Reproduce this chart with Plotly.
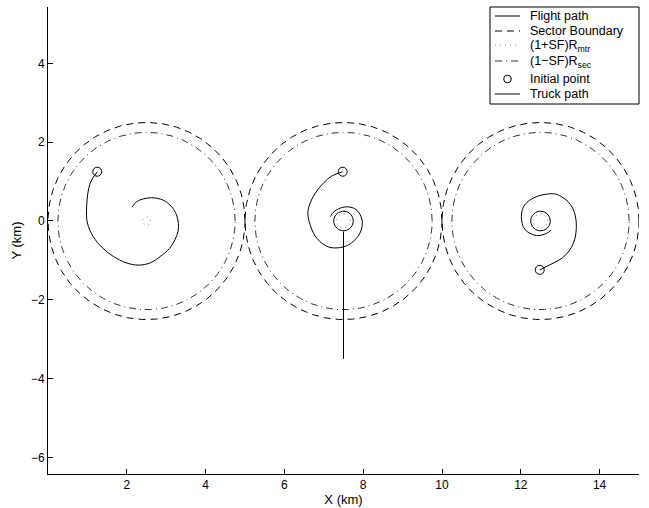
import numpy as np
import plotly.graph_objects as go

# ---- data ----
sector_cx = [2.5, 7.5, 12.5]
sector_cy = [0.0, 0.0, 0.0]
R_sec = 2.5
SF = 0.1
R_mtr_dotted = [0.1, 0.18, 0.18]          # (1+SF)R_mtr radii per sector
loiter_r = [None, 0.25, 0.25]             # terminal loiter circle (flight path)

fp1_x = [1.25, 1.07, 0.98, 1.0, 1.15, 1.38, 1.66, 1.98, 2.30, 2.60, 2.85, 3.08, 3.22, 3.30, 3.31, 3.26, 3.14, 2.92, 2.63, 2.42, 2.25, 2.13]
fp1_y = [1.25, 0.96, 0.36, -0.05, -0.40, -0.68, -0.90, -1.06, -1.12, -1.06, -0.90, -0.70, -0.48, -0.27, -0.06, 0.16, 0.36, 0.53, 0.59, 0.56, 0.49, 0.35]

fp2_x = [7.48, 7.20, 6.99, 6.78, 6.62, 6.60, 6.74, 6.90, 7.12, 7.37, 7.60, 7.79, 7.93, 7.98, 7.95, 7.87, 7.75, 7.58, 7.45, 7.32, 7.22, 7.17]
fp2_y = [1.25, 1.14, 0.96, 0.70, 0.36, 0.12, -0.31, -0.52, -0.66, -0.68, -0.62, -0.48, -0.28, -0.06, 0.10, 0.24, 0.33, 0.36, 0.34, 0.28, 0.20, 0.11]

fp3_x = [12.48, 12.82, 13.05, 13.24, 13.37, 13.41, 13.39, 13.32, 13.20, 13.03, 12.85, 12.65, 12.43, 12.23, 12.08, 12.02, 12.02, 12.06, 12.15, 12.27, 12.40, 12.52, 12.66, 12.77]
fp3_y = [-1.24, -1.07, -0.94, -0.74, -0.46, -0.14, 0.10, 0.32, 0.49, 0.62, 0.69, 0.68, 0.63, 0.53, 0.38, 0.20, 0.03, -0.14, -0.26, -0.33, -0.37, -0.36, -0.31, -0.23]

init_x = [1.25, 7.48, 12.48]
init_y = [1.25, 1.25, -1.24]

truck_x = [7.5, 7.5]
truck_y = [-3.5, -0.27]

x_ticks = [2, 4, 6, 8, 10, 12, 14]
y_ticks = [-6, -4, -2, 0, 2, 4]

legend_labels = ["Flight path", "Sector Boundary", "(1+SF)R<sub>mtr</sub>",
                 "(1\u2212SF)R<sub>sec</sub>", "Initial point", "Truck path"]

FONT = "Liberation Sans, Arial, Helvetica, sans-serif"

# styles
S_SOLID = dict(color="black", width=1)
S_DASH = dict(color="black", width=1, dash="7px,5px")
S_DOT = dict(color="#888888", width=1, dash="1px,4px")
S_DASHDOT = dict(color="#333333", width=1, dash="7px,4px,1px,4px")

W, H = 649, 508
ML, MR, MT, MB = 48, 10, 7, 34
PW, PH = W - ML - MR, H - MT - MB


def circle_pts(cx, cy, r, n=200):
    t = np.linspace(0, 2 * np.pi, n)
    return cx + r * np.cos(t), cy + r * np.sin(t)


def px(xp):
    return (xp - ML) / PW


def py(yp):
    return 1 - (yp - MT) / PH


fig = go.Figure()

# Flight paths
for xs, ys in [(fp1_x, fp1_y), (fp2_x, fp2_y), (fp3_x, fp3_y)]:
    fig.add_trace(go.Scatter(x=xs, y=ys, mode="lines", line=dict(S_SOLID, shape="spline"),
                             showlegend=False, hoverinfo="skip"))
for cx, cy, r in zip(sector_cx, sector_cy, loiter_r):
    if r is None:
        continue
    xs, ys = circle_pts(cx, cy, r)
    fig.add_trace(go.Scatter(x=xs, y=ys, mode="lines", line=S_SOLID, showlegend=False, hoverinfo="skip"))

# Sector boundary, dotted and dash-dot circles
for cx, cy, r in zip(sector_cx, sector_cy, R_mtr_dotted):
    xs, ys = circle_pts(cx, cy, R_sec, 400)
    fig.add_trace(go.Scatter(x=xs, y=ys, mode="lines", line=S_DASH, showlegend=False, hoverinfo="skip"))
    xs, ys = circle_pts(cx, cy, r, 60)
    fig.add_trace(go.Scatter(x=xs, y=ys, mode="lines", line=S_DOT, showlegend=False, hoverinfo="skip"))
    xs, ys = circle_pts(cx, cy, (1 - SF) * R_sec, 400)
    fig.add_trace(go.Scatter(x=xs, y=ys, mode="lines", line=S_DASHDOT, showlegend=False, hoverinfo="skip"))

# Initial points
fig.add_trace(go.Scatter(x=init_x, y=init_y, mode="markers",
                         marker=dict(symbol="circle-open", size=9, color="black", line=dict(width=1)),
                         showlegend=False, hoverinfo="skip"))

# Truck path
fig.add_trace(go.Scatter(x=truck_x, y=truck_y, mode="lines", line=S_SOLID, showlegend=False, hoverinfo="skip"))

# ---- manual legend (MATLAB-style compact box) ----
box = dict(x0=490, x1=639, y0=7, y1=104)
row_y = [16, 31, 46, 62, 79, 94]
styles = [S_SOLID, S_DASH, S_DOT, S_DASHDOT, None, S_SOLID]
shapes = [dict(type="rect", xref="paper", yref="paper",
               x0=px(box["x0"]), x1=px(box["x1"]), y0=py(box["y1"]), y1=py(box["y0"]),
               line=dict(color="black", width=1), fillcolor="white", layer="above")]
annotations = []
for lab, yy, st in zip(legend_labels, row_y, styles):
    yline = yy if "<sub>" not in lab else yy - 1
    if st is not None:
        shapes.append(dict(type="line", xref="paper", yref="paper",
                           x0=px(495), x1=px(520), y0=py(yline), y1=py(yline),
                           line=st, layer="above"))
    else:
        r = 3.8
        shapes.append(dict(type="circle", xref="paper", yref="paper",
                           x0=px(507.5 - r), x1=px(507.5 + r), y0=py(yy + r), y1=py(yy - r),
                           line=dict(color="black", width=1), layer="above"))
    annotations.append(dict(text=lab, xref="paper", yref="paper", x=px(528), y=py(yy),
                            xanchor="left", yanchor="middle", showarrow=False,
                            font=dict(family=FONT, size=12.5, color="black")))

fig.update_layout(
    width=W, height=H,
    margin=dict(l=ML, r=MR, t=MT, b=MB, autoexpand=False),
    paper_bgcolor="white", plot_bgcolor="white",
    font=dict(family=FONT, size=12, color="black"),
    showlegend=False,
    shapes=shapes, annotations=annotations,
)
fig.update_xaxes(range=[0, 15], tickvals=x_ticks, ticks="inside", ticklen=5, tickcolor="black",
                 showline=True, linecolor="black", linewidth=1, showgrid=False, zeroline=False,
                 tickfont=dict(size=12),
                 title=dict(text="X (km)", standoff=2, font=dict(size=13)))
fig.update_yaxes(range=[-6.42, 5.43], tickvals=y_ticks, ticks="inside", ticklen=5, tickcolor="black",
                 showline=True, linecolor="black", linewidth=1, showgrid=False, zeroline=False,
                 tickformat="d", tickfont=dict(size=12),
                 title=dict(text="Y (km)", standoff=6, font=dict(size=13)))

fig.write_html("out.html", post_script="document.body.style.margin='0px';",
               config={"displayModeBar": False})
